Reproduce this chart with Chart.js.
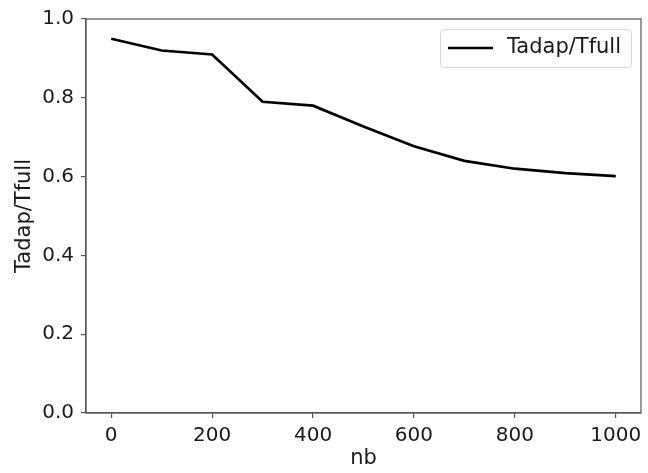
<!DOCTYPE html>
<html>
<head>
<meta charset="utf-8">
<script src="https://cdn.jsdelivr.net/npm/chart.js@4"></script>
<style>
  html, body { margin: 0; padding: 0; background: #fff; }
  #wrap { width: 648px; height: 473px; position: relative; }
</style>
</head>
<body>
<div id="wrap"><canvas id="c" width="648" height="473"></canvas></div>
<script>
// ---- data ----
const nbValues = [0, 100, 200, 300, 400, 500, 600, 700, 800, 900, 1000];
const ratioValues = [0.95, 0.92, 0.91, 0.79, 0.78, 0.727, 0.677, 0.64, 0.62, 0.609, 0.601];
const xTickLabels = [0, 200, 400, 600, 800, 1000];
const yTickLabels = [0.0, 0.2, 0.4, 0.6, 0.8, 1.0];
const seriesName = 'Tadap/Tfull';
const xTitle = 'nb';
const yTitle = 'Tadap/Tfull';

const FONT = 'DejaVu Sans';
const FS = 20;
const FS_LABEL = 21;
const TEXT = '#1a1a1a';
const SPINE = '#555555';

const framePlugin = {
  id: 'frame',
  afterDatasetsDraw(chart) {
    const {ctx, chartArea: a} = chart;
    ctx.save();
    ctx.strokeStyle = SPINE;
    ctx.lineWidth = 1.2;
    ctx.strokeRect(a.left, a.top, a.right - a.left, a.bottom - a.top);
    ctx.restore();
  }
};

const legendPlugin = {
  id: 'innerLegend',
  afterDraw(chart) {
    const {ctx, chartArea: a} = chart;
    const ds = chart.data.datasets[0];
    ctx.save();
    ctx.font = FS_LABEL + 'px "' + FONT + '"';
    const tw = ctx.measureText(ds.label).width;
    const boxW = 8 + 45 + 15 + tw + 9;
    const boxH = 38;
    const x = a.right - 10 - boxW;
    const y = a.top + 10;
    ctx.fillStyle = 'rgba(255,255,255,0.8)';
    ctx.strokeStyle = '#d6d6d6';
    ctx.lineWidth = 1;
    ctx.beginPath();
    ctx.roundRect(x + 0.5, y + 0.5, boxW, boxH, 4);
    ctx.fill();
    ctx.stroke();
    const cy = y + boxH / 2;
    ctx.strokeStyle = ds.borderColor;
    ctx.lineWidth = ds.borderWidth;
    ctx.beginPath();
    ctx.moveTo(x + 8, cy);
    ctx.lineTo(x + 53, cy);
    ctx.stroke();
    ctx.fillStyle = TEXT;
    ctx.textBaseline = 'middle';
    ctx.textAlign = 'left';
    ctx.fillText(ds.label, x + 67, cy);
    ctx.restore();
  }
};

new Chart(document.getElementById('c'), {
  type: 'line',
  data: {
    datasets: [{
      label: seriesName,
      data: nbValues.map((v, i) => ({x: v, y: ratioValues[i]})),
      borderColor: '#000000',
      borderWidth: 2.7,
      pointRadius: 0,
      tension: 0,
      fill: false
    }]
  },
  options: {
    responsive: false,
    animation: false,
    devicePixelRatio: 1,
    layout: { padding: { top: 19, right: 7, left: 0, bottom: 0 } },
    plugins: {
      legend: { display: false },
      tooltip: { enabled: false }
    },
    scales: {
      x: {
        type: 'linear',
        min: -50,
        max: 1050,
        afterBuildTicks(scale) { scale.ticks = xTickLabels.map(v => ({value: v})); },
        afterFit(scale) { scale.height = 473 - 413; },
        grid: { display: true, drawOnChartArea: false, drawTicks: true, tickLength: 5, color: SPINE, lineWidth: 1.2 },
        border: { display: true, color: SPINE, width: 1.2 },
        ticks: {
          color: TEXT, font: { family: FONT, size: FS }, padding: 6,
          maxRotation: 0,
          callback: v => String(v)
        },
        title: {
          display: true, text: xTitle, color: TEXT,
          font: { family: FONT, size: FS_LABEL, lineHeight: 1.2 },
          padding: { top: 0, bottom: 2 }
        }
      },
      y: {
        type: 'linear',
        min: 0,
        max: 1,
        afterBuildTicks(scale) { scale.ticks = yTickLabels.map(v => ({value: v})); },
        afterFit(scale) { scale.width = 86; },
        grid: { display: true, drawOnChartArea: false, drawTicks: true, tickLength: 5, color: SPINE, lineWidth: 1.2 },
        border: { display: true, color: SPINE, width: 1.2 },
        ticks: {
          color: TEXT, font: { family: FONT, size: FS }, padding: 7,
          callback: v => Number(v).toFixed(1)
        },
        title: {
          display: true, text: yTitle, color: TEXT,
          font: { family: FONT, size: FS_LABEL, lineHeight: 1.2 },
          padding: { top: 12, bottom: 0 }
        }
      }
    }
  },
  plugins: [framePlugin, legendPlugin]
});
</script>
</body>
</html>
